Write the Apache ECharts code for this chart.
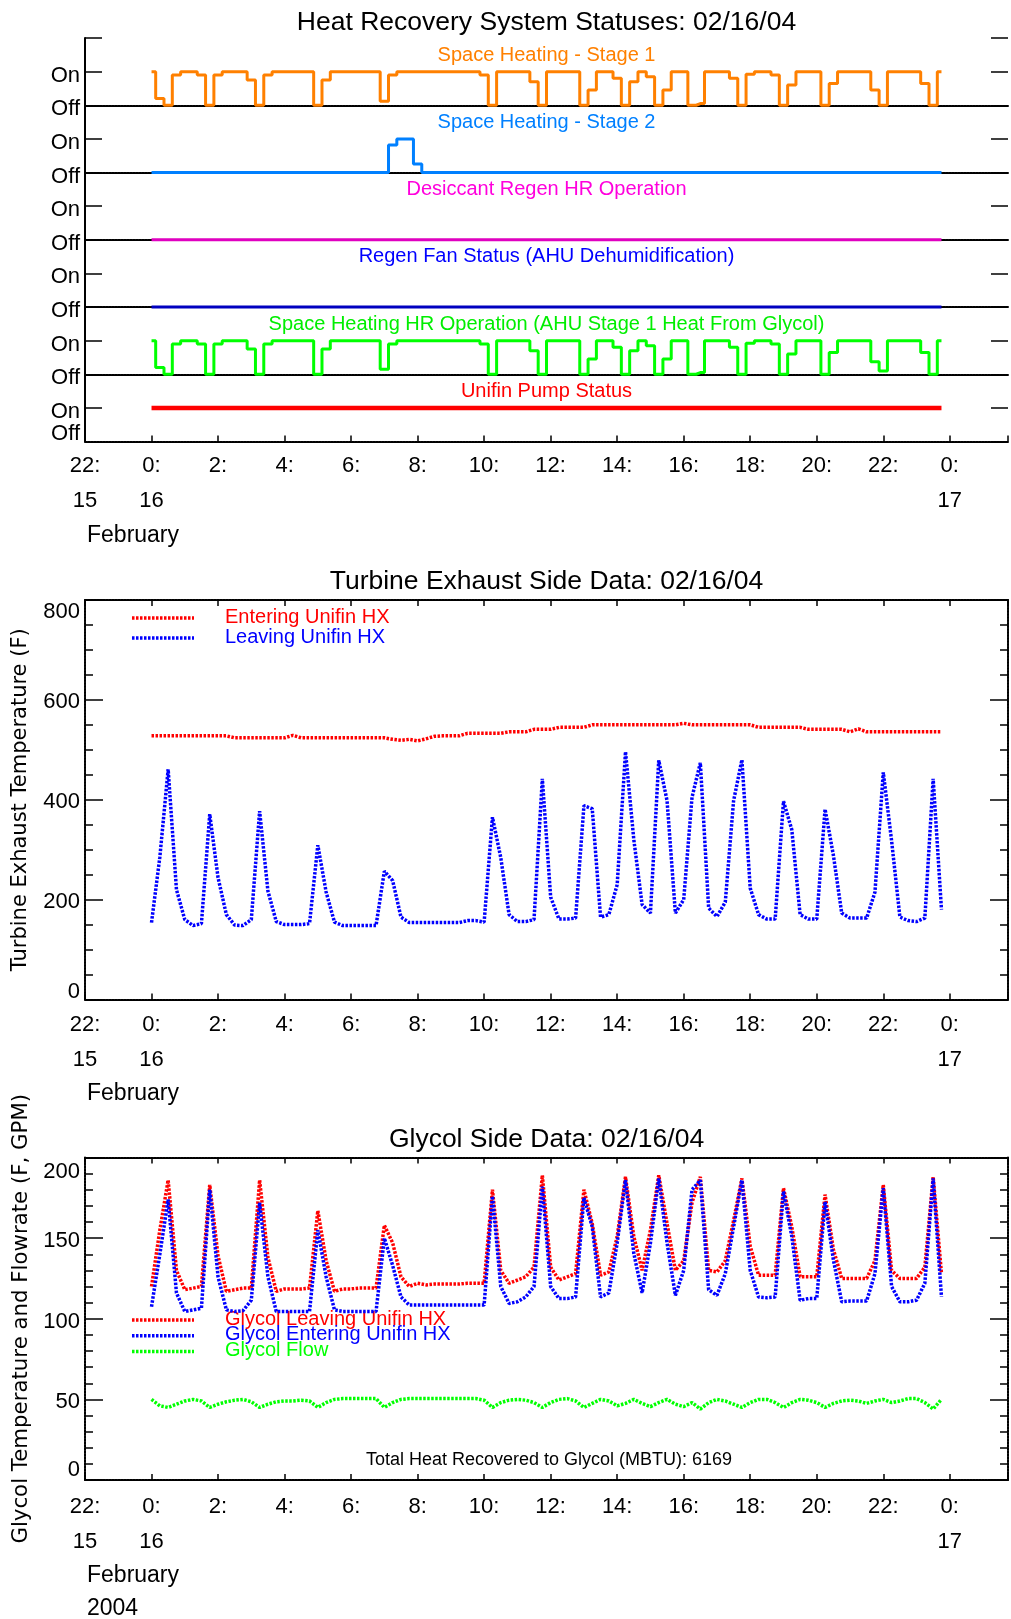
<!DOCTYPE html>
<html><head><meta charset="utf-8">
<script src="https://cdn.jsdelivr.net/npm/echarts@6/dist/echarts.min.js"></script>
<style>html,body{margin:0;padding:0;background:#fff}#c{width:1011px;height:1619px}</style>
</head><body><div id="c"></div>
<script>
// ================= DATA =================
// sample times, hours after 00:00 on 16 Feb 2004 (15-minute samples)
const TIME_H = [0,0.25,0.5,0.75,1,1.25,1.5,1.75,2,2.25,2.5,2.75,3,3.25,3.5,3.75,4,4.25,4.5,4.75,
5,5.25,5.5,5.75,6,6.25,6.5,6.75,7,7.25,7.5,7.75,8,8.25,8.5,8.75,9,9.25,9.5,9.75,
10,10.25,10.5,10.75,11,11.25,11.5,11.75,12,12.25,12.5,12.75,13,13.25,13.5,13.75,14,14.25,14.5,14.75,
15,15.25,15.5,15.75,16,16.25,16.5,16.75,17,17.25,17.5,17.75,18,18.25,18.5,18.75,19,19.25,19.5,19.75,
20,20.25,20.5,20.75,21,21.25,21.5,21.75,22,22.25,22.5,22.75,23,23.25,23.5,23.75];

const X_TICK_HOURS = [-2,0,2,4,6,8,10,12,14,16,18,20,22,24];
const X_TICK_TEXT  = ['22:\n15','0:\n16','2:','4:','6:','8:','10:','12:','14:','16:','18:','20:','22:','0:\n17'];

// status fractions (0 = Off, 1 = On)
const SH_STAGE1 = [1,0.2,0,0.9,1,1,0.9,0,0.9,1, 1,1,0.75,0,0.9,1,1,1,1,1,
0,0.75,1,1,1,1,1,1,0.12,0.9, 1,1,1,1,1,1,1,1,1,1,
0.9,0,1,1,1,1,0.7,0,1,1, 1,1,0,0.45,1,1,0.8,0,0.7,1,
0.85,0,0.45,1,1,0,0.05,1,1,1, 0.8,0,0.92,1,1,0.9,0,0.6,1,1,
1,0,0.65,1,1,1,1,0.45,0,1, 1,1,1,0.65,0,1];
const SH_STAGE2 = [0,0,0,0,0,0,0,0,0,0, 0,0,0,0,0,0,0,0,0,0,
0,0,0,0,0,0,0,0,0,0.82, 1,1,0.25,0,0,0,0,0,0,0,
0,0,0,0,0,0,0,0,0,0, 0,0,0,0,0,0,0,0,0,0,
0,0,0,0,0,0,0,0,0,0, 0,0,0,0,0,0,0,0,0,0,
0,0,0,0,0,0,0,0,0,0, 0,0,0,0,0,0];
const DESICCANT_REGEN = [0,0,0,0,0,0,0,0,0,0, 0,0,0,0,0,0,0,0,0,0,
0,0,0,0,0,0,0,0,0,0, 0,0,0,0,0,0,0,0,0,0,
0,0,0,0,0,0,0,0,0,0, 0,0,0,0,0,0,0,0,0,0,
0,0,0,0,0,0,0,0,0,0, 0,0,0,0,0,0,0,0,0,0,
0,0,0,0,0,0,0,0,0,0, 0,0,0,0,0,0];
const REGEN_FAN = [0,0,0,0,0,0,0,0,0,0, 0,0,0,0,0,0,0,0,0,0,
0,0,0,0,0,0,0,0,0,0, 0,0,0,0,0,0,0,0,0,0,
0,0,0,0,0,0,0,0,0,0, 0,0,0,0,0,0,0,0,0,0,
0,0,0,0,0,0,0,0,0,0, 0,0,0,0,0,0,0,0,0,0,
0,0,0,0,0,0,0,0,0,0, 0,0,0,0,0,0];
const SH_HR_OP = [1,0.2,0,0.9,1,1,0.9,0,0.9,1, 1,1,0.75,0,0.9,1,1,1,1,1,
0,0.75,1,1,1,1,1,1,0.15,0.9, 1,1,1,1,1,1,1,1,1,1,
0.9,0,1,1,1,1,0.7,0,1,1, 1,1,0,0.45,1,1,0.8,0,0.7,1,
0.85,0,0.45,1,1,0,0.05,1,1,1, 0.8,0,0.92,1,1,0.9,0,0.6,1,1,
1,0,0.65,1,1,1,1,0.37,0.1,1, 1,1,1,0.65,0,1];
const UNIFIN_PUMP = [1,1,1,1,1,1,1,1,1,1, 1,1,1,1,1,1,1,1,1,1,
1,1,1,1,1,1,1,1,1,1, 1,1,1,1,1,1,1,1,1,1,
1,1,1,1,1,1,1,1,1,1, 1,1,1,1,1,1,1,1,1,1,
1,1,1,1,1,1,1,1,1,1, 1,1,1,1,1,1,1,1,1,1,
1,1,1,1,1,1,1,1,1,1, 1,1,1,1,1,1];

// turbine exhaust side (F)
const EXH_ENTERING = [528,528,528,528,528,528,528,528,528,528, 524,524,524,524,524,524,524,529,524,524,
524,524,524,524,524,524,524,524,524,521, 519,521,518,522,527,528,528,528,533,533,
533,533,533,536,536,536,541,541,541,545, 545,545,545,550,550,550,550,550,550,550,
550,550,550,550,553,550,550,550,550,550, 550,550,550,545,545,545,545,545,545,541,
541,541,541,541,536,542,536,536,536,536, 536,536,536,536,536,536];
const EXH_LEAVING = [154,285,461,220,160,148,152,371,244,170, 149,148,160,377,217,156,150,150,150,152,
309,215,155,148,148,148,148,148,257,238, 165,154,154,154,154,154,154,154,158,158,
155,365,284,170,156,156,160,442,205,161, 161,163,388,382,165,170,230,496,320,190,
173,479,398,173,200,405,474,183,166,195, 398,480,223,170,161,161,397,340,170,161,
161,381,289,173,163,163,163,215,455,318, 165,158,156,163,442,180];

// glycol side (F, GPM)
const GLY_LEAVING = [120,155,186,130,118,119,120,183,139,117, 118,119,119,186,138,117,118.5,118.5,118.5,119,
167,136,117,118.5,118.5,119,119,119,158,147, 126,120,122,121,121.5,121.5,121.5,121.5,122,122,
122,180,130,122,124,126,132,189,132,124, 126,128,180,159,127,129,151,188,151,130,
155,189,159,130,136,172,188,130,129,136, 161,187,145,127,127,127,181,157,126,126,
126,177,143,125,125,125,125,136,183,130, 125,125,125,132,188,128];
const GLY_ENTERING = [107.5,140,174,116,104.5,105.5,106.5,180,126,105.5, 104.5,105,111.5,172,126,104.5,104.5,104.5,104.5,104.5,
155,126,105.5,104.5,104.5,104.5,104.5,104.5,150,133, 113.5,108.5,108.5,108.5,108.5,108.5,108.5,108.5,108.5,108.5,
108.5,176,120,109.5,110.5,113.5,120,182,120,112.5, 112.5,113.5,175,157,113.5,116,147,186,140.5,116,
147,187,147,114.5,130,180,186,118,114.5,128, 157,186,130,113.5,113,113.5,179,151,111.5,112.5,
112.5,172.5,136.5,110.5,111,111,111,128,181,120, 110.5,110.5,111.5,122,187,113.5];
const GLY_FLOW = [50,46,45,47,49,50,49,45,47,48.5, 49.5,50,48.5,45,47,48.5,49,49,49.5,49,
45,48,50,50.5,50.5,50.5,50.5,50.5,45,48, 50,50.5,50.5,50.5,50.5,50.5,50.5,50.5,50.5,50.5,
49.5,45,48,49.5,50,49.5,48,45,48,50, 50.5,49,45,47.5,50,49,46,47.5,50,47.5,
45.5,48,50,47,45.5,48,44,48,50,49, 47,45,48,50,50,48,45,48,50,49.5,
48,45,47.5,49,49.5,49,47.5,49,50,48, 49,50.5,50.5,48,44,50];
const TOTAL_HEAT_MBTU = 6169;

// ================= LAYOUT / STYLE =================
const FONT = '"Liberation Sans", Arial, Helvetica, sans-serif';
const GL = 85, GW = 923;
const P1_TOP = 38, P1_BOT = 441.5, CH_H = (P1_BOT - P1_TOP) / 6;
const P2_TOP = 600, P2_BOT = 999.5;
const P3_TOP = 1157.5, P3_BOT = 1480;
const BORDER = {color: '#000', width: 2, type: [2, 1]};
const TICK_STYLE = {color: '#000', width: 1.5};

const CHANNELS = [
  {name: 'Space Heating - Stage 1', data: SH_STAGE1, color: '#FF8000', labelColor: '#FF8000'},
  {name: 'Space Heating - Stage 2', data: SH_STAGE2, color: '#0080FF', labelColor: '#0080FF'},
  {name: 'Desiccant Regen HR Operation', data: DESICCANT_REGEN, color: '#E000C0', labelColor: '#FF00DD'},
  {name: 'Regen Fan Status (AHU Dehumidification)', data: REGEN_FAN, color: '#0000C0', labelColor: '#0000FF'},
  {name: 'Space Heating HR Operation (AHU Stage 1 Heat From Glycol)', data: SH_HR_OP, color: '#00FF00', labelColor: '#00EE00'},
  {name: 'Unifin Pump Status', data: UNIFIN_PUMP, color: '#FF0000', labelColor: '#FF0000', width: 4.5}
];

function xLabel(v) {
  const i = X_TICK_HOURS.indexOf(v);
  return i >= 0 ? X_TICK_TEXT[i] : '';
}
function pairs(arr) { return TIME_H.map((t, i) => [t, arr[i]]); }
function richTok(lh) { return {lineHeight: lh, fontSize: 22, fontFamily: FONT, color: '#000'}; }

const grid = [], xAxis = [], yAxis = [], series = [], graphic = [];

function xAx(gi, extra) {
  return Object.assign({
    type: 'value', gridIndex: gi, min: -2, max: 25.75, interval: 2,
    axisLine: {show: true, onZero: false, lineStyle: BORDER},
    axisTick: {show: false}, axisLabel: {show: false}, splitLine: {show: false}
  }, extra || {});
}
function labeledX(margin) {
  return {
    position: 'bottom',
    axisTick: {show: true, inside: true, length: 6, lineStyle: TICK_STYLE},
    axisLabel: {show: true, margin: margin, fontSize: 22, fontFamily: FONT, color: '#000', lineHeight: 35,
                formatter: xLabel, showMaxLabel: true, showMinLabel: true}
  };
}
const topX = {position: 'top', axisTick: {show: true, inside: true, length: 6, lineStyle: TICK_STYLE}};

// ---- panel 1: six stacked status channels ----
CHANNELS.forEach((ch, k) => {
  const top = P1_TOP + k * CH_H;
  grid.push({left: GL, width: GW, top: top, height: CH_H});
  const last = k === CHANNELS.length - 1;
  xAxis.push(xAx(k, last ? labeledX(7) : {}));
  yAxis.push({
    type: 'value', gridIndex: k, min: 0, max: 2, interval: 1, position: 'left',
    axisLine: {show: true, onZero: false, lineStyle: {color: '#000', width: 2}},
    axisTick: {show: true, inside: true, length: 17, lineStyle: TICK_STYLE},
    axisLabel: {show: true, margin: 5, fontSize: 22, fontFamily: FONT, color: '#000',
      verticalAlign: 'top', lineHeight: 8, showMinLabel: !last, showMaxLabel: true,
      formatter: v => v === 0 ? (last ? '' : 'Off') : (v === 1 ? 'On' : '')},
    splitLine: {show: false}
  });
  yAxis.push({
    type: 'value', gridIndex: k, min: 0, max: 2, interval: 1, position: 'right',
    axisLine: {show: false, onZero: false},
    axisTick: {show: true, inside: true, length: 17, lineStyle: TICK_STYLE},
    axisLabel: {show: false}, splitLine: {show: false}
  });
  series.push({
    type: 'line', name: ch.name, xAxisIndex: k, yAxisIndex: 2 * k, data: pairs(ch.data),
    step: 'middle', showSymbol: false, clip: false, silent: true, z: 3,
    lineStyle: {color: ch.color, width: ch.width || 3}
  });
  graphic.push({type: 'text', x: GL + GW / 2, y: top + 17,
    style: {text: ch.name, font: '20px ' + FONT, fill: ch.labelColor, textAlign: 'center', textVerticalAlign: 'middle'}});
});

// ---- panels 2 & 3 ----
grid.push({left: GL, width: GW, top: P2_TOP, height: P2_BOT - P2_TOP});
grid.push({left: GL, width: GW, top: P3_TOP, height: P3_BOT - P3_TOP});
xAxis.push(xAx(6, labeledX(8)));
xAxis.push(xAx(6, topX));
xAxis.push(xAx(7, labeledX(9)));
xAxis.push(xAx(7, topX));

function valY(gi, max, interval, split, pos, midLH, topLH, botLH) {
  return {
    type: 'value', gridIndex: gi, min: 0, max: max, interval: interval, position: pos,
    axisLine: {show: true, onZero: false, lineStyle: BORDER},
    axisTick: {show: true, inside: true, length: 18, lineStyle: TICK_STYLE},
    minorTick: {show: true, splitNumber: split, length: 8, lineStyle: TICK_STYLE},
    axisLabel: {show: pos === 'left', margin: 5, fontSize: 22, fontFamily: FONT, color: '#000',
      verticalAlign: 'top', lineHeight: midLH, showMinLabel: true, showMaxLabel: true,
      formatter: v => v === max ? '{t|' + v + '}' : (v === 0 ? '{b|0}' : String(v)),
      rich: {t: richTok(topLH), b: richTok(botLH)},
      verticalAlignMaxLabel: 'top', verticalAlignMinLabel: 'bottom'},
    splitLine: {show: false}, minorSplitLine: {show: false}
  };
}
yAxis.push(valY(6, 800, 200, 4, 'left', 4, 23, 16));   // index 12
yAxis.push(valY(6, 800, 200, 4, 'right', 4, 23, 16));  // 13
yAxis.push(valY(7, 200, 50, 5, 'left', 6, 29, 21));    // 14
yAxis.push(valY(7, 200, 50, 5, 'right', 6, 29, 21));   // 15

const DOT = [2.5, 1.5];
function dotted(name, arr, color, xi, yi) {
  return {type: 'line', name: name, xAxisIndex: xi, yAxisIndex: yi, data: pairs(arr),
    showSymbol: false, silent: true, z: 3,
    lineStyle: {color: color, width: 3.5, type: DOT}};
}
series.push(dotted('Entering Unifin HX', EXH_ENTERING, '#FF0000', 6, 12));
series.push(dotted('Leaving Unifin HX', EXH_LEAVING, '#0000FF', 6, 12));
series.push(dotted('Glycol Leaving Unifin HX', GLY_LEAVING, '#FF0000', 8, 14));
series.push(dotted('Glycol Entering Unifin HX', GLY_ENTERING, '#0000FF', 8, 14));
series.push(dotted('Glycol Flow', GLY_FLOW, '#00FF00', 8, 14));

// ---- free text ----
function txt(text, x, y, size, color, align, extra) {
  return Object.assign({type: 'text', x: x, y: y,
    style: {text: text, font: size + 'px ' + FONT, fill: color || '#000',
            textAlign: align || 'center', textVerticalAlign: 'middle'}}, extra || {});
}
const CX = GL + GW / 2;
graphic.push(txt('Heat Recovery System Statuses: 02/16/04', CX, 23, 26.5));
graphic.push(txt('Turbine Exhaust Side Data: 02/16/04', CX, 582, 26.5));
graphic.push(txt('Glycol Side Data: 02/16/04', CX, 1140, 26.5));
graphic.push(txt('Off', GL - 5, P1_BOT - 7.5, 22, '#000', 'right'));   // bottom "Off" of the status panel
graphic.push(txt('February', 87, 536, 23, '#000', 'left'));
graphic.push(txt('February', 87, 1093.5, 23, '#000', 'left'));
graphic.push(txt('February', 87, 1576, 23, '#000', 'left'));
graphic.push(txt('2004', 87, 1609, 23, '#000', 'left'));
graphic.push(txt('Total Heat Recovered to Glycol (MBTU): ' + TOTAL_HEAT_MBTU, 549, 1460, 18));
graphic.push({type: 'text', x: 21, y: (P2_TOP + P2_BOT) / 2, rotation: Math.PI / 2,
  style: {text: 'Turbine Exhaust Temperature (F)', font: '21px "DejaVu Sans", sans-serif', fill: '#000',
          textAlign: 'center', textVerticalAlign: 'middle'}});
graphic.push({type: 'text', x: 21, y: (P3_TOP + P3_BOT) / 2, rotation: Math.PI / 2,
  style: {text: 'Glycol Temperature and Flowrate (F, GPM)', font: '21.3px "DejaVu Sans", sans-serif', fill: '#000',
          textAlign: 'center', textVerticalAlign: 'middle'}});

// legends
function legendItem(name, color, y) {
  graphic.push({type: 'line', shape: {x1: 132, y1: y, x2: 194, y2: y},
    style: {stroke: color, lineWidth: 3.5, lineDash: DOT}});
  graphic.push(txt(name, 225, y - 1, 20, color, 'left'));
}
legendItem('Entering Unifin HX', '#FF0000', 618);
legendItem('Leaving Unifin HX', '#0000FF', 638);
legendItem('Glycol Leaving Unifin HX', '#FF0000', 1320);
legendItem('Glycol Entering Unifin HX', '#0000FF', 1335.7);
legendItem('Glycol Flow', '#00FF00', 1351.5);

const chart = echarts.init(document.getElementById('c'), null, {renderer: 'canvas'});
chart.setOption({
  animation: false, backgroundColor: '#fff',
  grid: grid, xAxis: xAxis, yAxis: yAxis, series: series, graphic: graphic
});
</script></body></html>
